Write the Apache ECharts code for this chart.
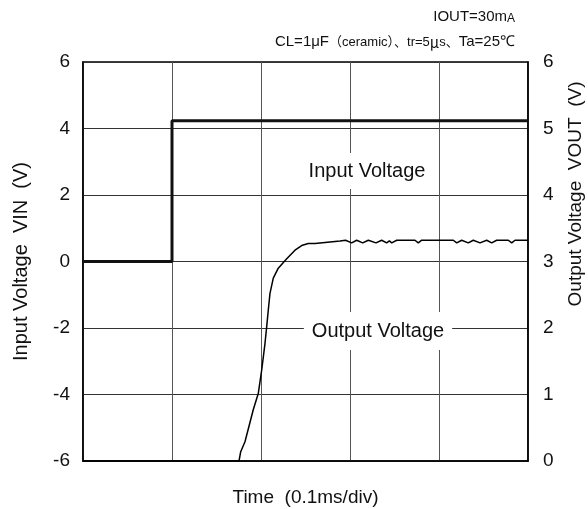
<!DOCTYPE html>
<html><head><meta charset="utf-8">
<script src="https://cdn.jsdelivr.net/npm/echarts@6/dist/echarts.min.js"></script>
<style>html,body{margin:0;padding:0;background:#fff}#c{width:588px;height:509px}</style>
</head><body><div id="c"></div>
<script>
// Time in divisions (0.1 ms/div)
var inputVoltage = [[0,0],[1,0],[1,4.23],[5,4.23]];
var outputVoltage = [
  [0,0],[1.753,0],[1.772,0.14],[1.820,0.29],[1.913,0.77],[1.970,1.02],[2.008,1.37],
  [2.045,1.77],[2.064,2.02],[2.082,2.27],[2.101,2.52],[2.138,2.75],[2.194,2.90],
  [2.289,3.04],[2.382,3.17],[2.457,3.24],[2.531,3.27],[2.607,3.27],[2.625,3.30],
  [2.888,3.31],[2.95,3.32],[3.019,3.28],[3.075,3.32],[3.143,3.28],[3.206,3.32],
  [3.292,3.28],[3.356,3.32],[3.412,3.28],[3.442,3.31],[3.469,3.28],[3.525,3.32],
  [3.730,3.32],[3.767,3.28],[3.806,3.32],[4.161,3.32],[4.199,3.28],[4.255,3.32],
  [4.329,3.28],[4.385,3.32],[4.461,3.28],[4.536,3.32],[4.592,3.28],[4.648,3.32],
  [4.779,3.32],[4.817,3.28],[4.854,3.32],[5,3.32]
];
var leftTicks = {min:-6, max:6, interval:2};
var rightTicks = {min:0, max:6, interval:1};
var xRange = {min:0, max:5, interval:1};

var font = '"Liberation Sans", Arial, sans-serif';
var chart = echarts.init(document.getElementById('c'));
chart.setOption({
  animation:false,
  backgroundColor:'#fff',
  grid:{left:83,right:60,top:62,bottom:48,show:true,borderColor:'#000',borderWidth:1.5,
    backgroundColor:'transparent',containLabel:false,outerBoundsMode:'none'},
  xAxis:{type:'value',min:xRange.min,max:xRange.max,interval:xRange.interval,
    axisLabel:{show:false},axisTick:{show:false},
    axisLine:{show:true,onZero:false,lineStyle:{color:'#000',width:1.5}},
    splitLine:{show:true,lineStyle:{color:'#555',width:1}},
    name:'Time  (0.1ms/div)',nameLocation:'middle',nameGap:27,
    nameTextStyle:{fontFamily:font,fontSize:19,color:'#111'}},
  yAxis:[
    {type:'value',min:leftTicks.min,max:leftTicks.max,interval:leftTicks.interval,position:'left',
     axisLabel:{fontFamily:font,fontSize:19,color:'#111',margin:13},
     axisTick:{show:false},
     axisLine:{show:true,onZero:false,lineStyle:{color:'#000',width:1.5}},
     splitLine:{show:true,lineStyle:{color:'#333',width:1}},
     name:'Input Voltage  VIN  (V)',nameLocation:'middle',nameGap:52,
     nameTextStyle:{fontFamily:font,fontSize:20,color:'#111'}},
    {type:'value',min:rightTicks.min,max:rightTicks.max,interval:rightTicks.interval,position:'right',
     axisLabel:{fontFamily:font,fontSize:19,color:'#111',margin:15},
     axisTick:{show:false},
     axisLine:{show:true,onZero:false,lineStyle:{color:'#000',width:1.5}},
     splitLine:{show:false}}
  ],
  graphic:[
    {type:'text',x:576,y:194,rotation:Math.PI/2,
     style:{text:'Output Voltage  VOUT  (V)',font:'19px '+font,fill:'#111',align:'center',verticalAlign:'middle'}},
    {type:'text',x:367,y:171,z:10,
     style:{text:'Input Voltage',font:'20px '+font,fill:'#111',align:'center',verticalAlign:'middle',
       backgroundColor:'#fff',padding:[8,2,8,2]}},
    {type:'text',x:378,y:331,z:10,
     style:{text:'Output Voltage',font:'20px '+font,fill:'#111',align:'center',verticalAlign:'middle',
       backgroundColor:'#fff',padding:[9,8,9,8]}},
    {type:'text',x:515,y:17,
     style:{text:'{a|IOUT=30m}{s|A}',align:'right',verticalAlign:'middle',
       rich:{a:{fontFamily:font,fontSize:15,fill:'#111'},s:{fontFamily:font,fontSize:12,fill:'#111',padding:[3,0,0,0]}}}},
    {type:'text',x:515,y:42,
     style:{text:'{a|CL=1μF}{b|（ceramic）、tr=5}{c|μ}{b|s、}{a|Ta=25℃}',align:'right',verticalAlign:'middle',
       rich:{a:{fontFamily:font,fontSize:15,fill:'#111'},
             b:{fontFamily:font+', "Noto Sans CJK JP"',fontSize:13,fill:'#111'},
             c:{fontFamily:'"Noto Sans CJK JP"',fontSize:15,fill:'#111'}}}}
  ],
  series:[
    {name:'Input Voltage',type:'line',yAxisIndex:0,data:inputVoltage,showSymbol:false,symbol:'none',
     lineStyle:{color:'#111',width:3},z:5},
    {name:'Output Voltage',type:'line',yAxisIndex:1,data:outputVoltage,showSymbol:false,symbol:'none',
     lineStyle:{color:'#000',width:1.5},z:4}
  ]
});
</script></body></html>
